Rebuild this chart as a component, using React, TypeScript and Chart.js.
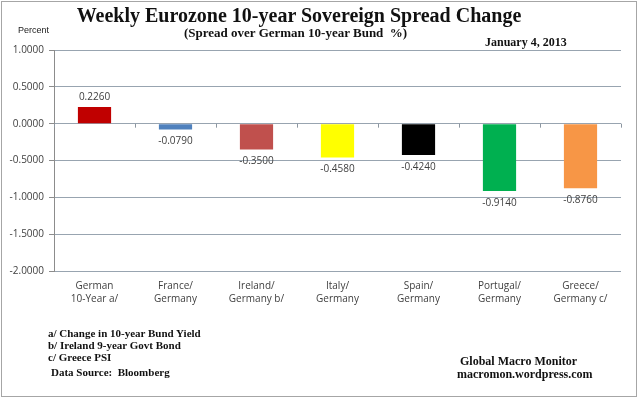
import React, { useEffect, useRef } from "react";
import { Chart, registerables } from "chart.js";

Chart.register(...registerables);

const categories: string[][] = [
  ["German", "10-Year a/"],
  ["France/", "Germany"],
  ["Ireland/", "Germany b/"],
  ["Italy/", "Germany"],
  ["Spain/", "Germany"],
  ["Portugal/", "Germany"],
  ["Greece/", "Germany c/"],
];
const spreadChange: number[] = [0.226, -0.079, -0.35, -0.458, -0.424, -0.914, -0.876];
const barColors: string[] = ["#C00000", "#4F81BD", "#C0504D", "#FFFF00", "#000000", "#00B050", "#F79646"];
const yMin = -2;
const yMax = 1;
const yStep = 0.5;

const footnotes: string[] = [
  "a/ Change in 10-year Bund Yield",
  "b/ Ireland 9-year Govt Bond",
  "c/ Greece PSI",
];

const labelFont = "'Open Sans', 'DejaVu Sans', sans-serif";
const serif = "'Liberation Serif', 'Times New Roman', serif";

const decorPlugin = {
  id: "decor",
  afterDatasetsDraw(chart: any) {
    const ctx = chart.ctx;
    const xs = chart.scales.x;
    const ys = chart.scales.y;
    const zeroY = ys.getPixelForValue(0);
    ctx.save();
    // tick marks along the zero line at category boundaries
    ctx.strokeStyle = "#8C96A0";
    ctx.lineWidth = 1;
    const n = chart.data.labels.length;
    const half = (xs.getPixelForValue(1) - xs.getPixelForValue(0)) / 2;
    for (let i = 0; i <= n; i++) {
      const x = i < n ? xs.getPixelForValue(i) - half : chart.chartArea.right;
      const px = Math.round(x) + 0.5;
      ctx.beginPath();
      ctx.moveTo(px, zeroY);
      ctx.lineTo(px, zeroY + 4);
      ctx.stroke();
    }
    // data labels
    ctx.fillStyle = "#404040";
    ctx.font = "10px " + labelFont;
    ctx.textAlign = "center";
    ctx.textBaseline = "middle";
    const meta = chart.getDatasetMeta(0);
    meta.data.forEach((bar: any, i: number) => {
      const v = chart.data.datasets[0].data[i];
      const y = v >= 0 ? bar.y - 10 : bar.y + 12;
      ctx.fillText(v.toFixed(4), bar.x, y);
    });
    ctx.restore();
  },
};

function BarChart() {
  const ref = useRef<HTMLCanvasElement>(null);
  useEffect(() => {
    if (!ref.current) return;
    const chart = new Chart(ref.current, {
      type: "bar",
      data: {
        labels: categories,
        datasets: [
          {
            data: spreadChange,
            backgroundColor: barColors,
            borderWidth: 0,
            categoryPercentage: 1,
            barPercentage: 0.41,
          },
        ],
      },
      options: {
        responsive: false,
        devicePixelRatio: 1,
        animation: false,
        layout: { padding: { top: 50, right: 19, left: 0, bottom: 88 } },
        plugins: { legend: { display: false }, tooltip: { enabled: false }, title: { display: false } },
        scales: {
          x: {
            grid: { display: false, drawTicks: false },
            border: { display: false },
            ticks: {
              color: "#404040",
              font: { family: labelFont, size: 10, lineHeight: 1.3 },
              padding: 9,
              maxRotation: 0,
              autoSkip: false,
            },
            afterFit: (s: any) => {
              s.height = 40;
            },
          },
          y: {
            min: yMin,
            max: yMax,
            ticks: {
              stepSize: yStep,
              color: "#404040",
              font: { family: labelFont, size: 10 },
              padding: 5,
              callback: (v: any) => Number(v).toFixed(4),
            },
            grid: { color: "#98A4B0", lineWidth: 1, tickLength: 5, tickColor: "#8C8C8C" },
            border: { color: "#8C8C8C" },
            afterFit: (s: any) => {
              s.width = 54;
            },
          },
        },
      },
      plugins: [decorPlugin],
    });
    return () => chart.destroy();
  }, []);
  return <canvas ref={ref} width={640} height={399} style={{ position: "absolute", left: 0, top: 0 }} />;
}

export default function App() {
  const abs = (s: React.CSSProperties): React.CSSProperties => ({ position: "absolute", whiteSpace: "nowrap", ...s });
  return (
    <div style={{ position: "fixed", left: 0, top: 0, width: 640, height: 399, background: "#fff", overflow: "hidden" }}>
      <div style={abs({ left: 1, top: 1, width: 634, height: 394, border: "1px solid #A6A6A6" })} />
      <BarChart />
      <div style={abs({ left: 0, width: 598, top: 3, textAlign: "center", font: "bold 20px " + serif, color: "#111", lineHeight: "24px" })}>
        Weekly Eurozone 10-year Sovereign Spread Change
      </div>
      <div style={abs({ left: 184, top: 25, font: "bold 13px " + serif, color: "#111", lineHeight: "16px" })}>
        (Spread over German 10-year Bund&nbsp; %)
      </div>
      <div style={abs({ left: 485, top: 34, font: "bold 12px " + serif, color: "#111", lineHeight: "16px" })}>January 4, 2013</div>
      <div style={abs({ left: 18, top: 24, font: "9px 'Liberation Sans', Arial, sans-serif", color: "#222", lineHeight: "12px" })}>Percent</div>
      {footnotes.map((f, i) => (
        <div key={i} style={abs({ left: 48, top: 327 + i * 12, font: "bold 11px " + serif, color: "#111", lineHeight: "12px" })}>
          {f}
        </div>
      ))}
      <div style={abs({ left: 51, top: 366, font: "bold 11px " + serif, color: "#111", lineHeight: "12px" })}>Data Source:&nbsp; Bloomberg</div>
      <div style={abs({ left: 460, top: 354, font: "bold 12px " + serif, color: "#111", lineHeight: "14px" })}>Global Macro Monitor</div>
      <div style={abs({ left: 457, top: 367, font: "bold 12px " + serif, color: "#111", lineHeight: "14px" })}>macromon.wordpress.com</div>
    </div>
  );
}
